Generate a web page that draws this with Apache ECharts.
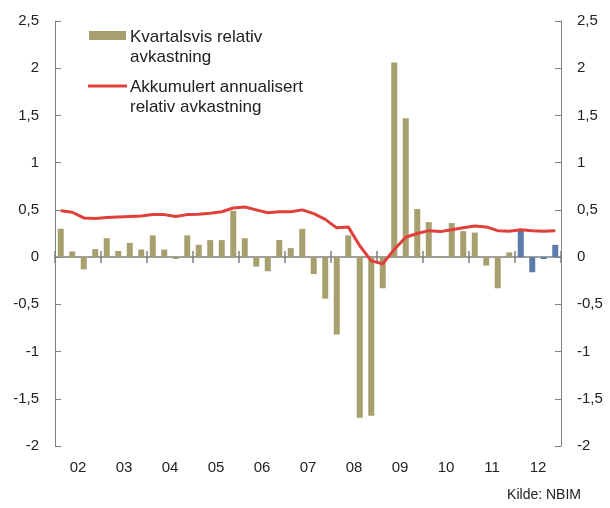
<!DOCTYPE html>
<html>
<head>
<meta charset="utf-8">
<script src="https://cdn.jsdelivr.net/npm/echarts@6/dist/echarts.min.js"></script>
<style>
  html, body { margin: 0; padding: 0; background: #fff; }
  #chart { width: 610px; height: 508px; }
</style>
</head>
<body>
<div id="chart"></div>
<script>
const years = ["02", "03", "04", "05", "06", "07", "08", "09", "10", "11", "12"];
const quarters = [];
years.forEach((y) => { for (let q = 1; q <= 4; q++) quarters.push(y + "K" + q); });

// Kvartalsvis relativ avkastning (prosentpoeng)
const quarterly = [
  0.30, 0.06, -0.13, 0.085,
  0.20, 0.065, 0.15, 0.08,
  0.23, 0.08, -0.02, 0.23,
  0.13, 0.18, 0.18, 0.49,
  0.20, -0.10, -0.15, 0.18,
  0.095, 0.30, -0.18, -0.44,
  -0.82, 0.23, -1.70, -1.68,
  -0.33, 2.06, 1.47, 0.51,
  0.37, 0.01, 0.36, 0.275,
  0.26, -0.09, -0.33, 0.05,
  0.28, -0.16, -0.02, 0.13,
];

// Akkumulert annualisert relativ avkastning
const accumulated = [
  0.49, 0.475, 0.415, 0.41,
  0.42, 0.425, 0.43, 0.435,
  0.45, 0.45, 0.43, 0.45,
  0.455, 0.465, 0.48, 0.52,
  0.53, 0.50, 0.47, 0.48,
  0.48, 0.50, 0.46, 0.40,
  0.31, 0.32, 0.12, -0.04,
  -0.07, 0.08, 0.21, 0.25,
  0.28, 0.27, 0.29, 0.31,
  0.33, 0.32, 0.28, 0.275,
  0.29, 0.28, 0.275, 0.28,
];

const KHAKI = "#A89F6E";
const BLUE = "#5B7CAA";
const RED = "#E0403A";
const AXIS = "#808080";
const FONT = "Liberation Sans";

const chart = echarts.init(document.getElementById("chart"));

const yAxisBase = {
  type: "value",
  min: -2,
  max: 2.5,
  interval: 0.5,
  axisLine: { show: true, lineStyle: { color: AXIS, width: 1 } },
  axisTick: { show: true, inside: true, length: 6, lineStyle: { color: AXIS } },
  splitLine: { show: false },
  axisLabel: {
    margin: 16,
    fontFamily: FONT,
    fontSize: 15,
    color: "#222",
    formatter: (v) => String(v).replace(".", ","),
  },
};

chart.setOption({
  animation: false,
  grid: { left: 55, right: 49, top: 21, bottom: 62 },
  xAxis: [
    {
      type: "category",
      data: quarters,
      position: "bottom",
      axisLine: { onZero: true, lineStyle: { color: AXIS, width: 1.5 } },
      axisTick: { show: true, interval: 3, length: 6, lineStyle: { color: AXIS, width: 1.5 } },
      axisLabel: { show: false },
    },
    {
      type: "category",
      data: quarters,
      position: "bottom",
      axisLine: { show: false, onZero: true },
      axisTick: { show: true, inside: true, interval: 3, length: 6, lineStyle: { color: AXIS, width: 1.5 } },
      axisLabel: { show: false },
    },
    {
      type: "category",
      data: years,
      position: "bottom",
      axisLine: { show: false, onZero: false },
      axisTick: { show: false },
      axisLabel: { margin: 14, fontFamily: FONT, fontSize: 15, color: "#222" },
    },
  ],
  yAxis: [
    Object.assign({}, yAxisBase, { position: "left" }),
    Object.assign({}, yAxisBase, { position: "right" }),
  ],
  series: [
    {
      name: "Kvartalsvis relativ avkastning",
      type: "bar",
      xAxisIndex: 0,
      yAxisIndex: 0,
      barWidth: 6,
      data: quarterly.map((v, i) => ({
        value: v,
        itemStyle: { color: quarters[i].startsWith("12") ? BLUE : KHAKI },
      })),
      z: 1,
    },
    {
      name: "Akkumulert annualisert relativ avkastning",
      type: "line",
      xAxisIndex: 0,
      yAxisIndex: 0,
      data: accumulated,
      showSymbol: false,
      lineStyle: { color: RED, width: 3, join: "round" },
      itemStyle: { color: RED },
      z: 3,
    },
  ],
  graphic: [
    { type: "rect", left: 89, top: 31, shape: { width: 37, height: 9 }, style: { fill: KHAKI } },
    {
      type: "text", left: 130, top: 27,
      style: { text: "Kvartalsvis relativ\navkastning", font: "17px " + FONT, fill: "#222", lineHeight: 20 },
    },
    { type: "line", shape: { x1: 88, y1: 86, x2: 127, y2: 86 }, style: { stroke: RED, lineWidth: 3 } },
    {
      type: "text", left: 130, top: 77,
      style: { text: "Akkumulert annualisert\nrelativ avkastning", font: "17px " + FONT, fill: "#222", lineHeight: 20 },
    },
    {
      type: "text", right: 29, top: 488,
      style: { text: "Kilde: NBIM", font: "14px " + FONT, fill: "#222" },
    },
  ],
});
</script>
</body>
</html>
